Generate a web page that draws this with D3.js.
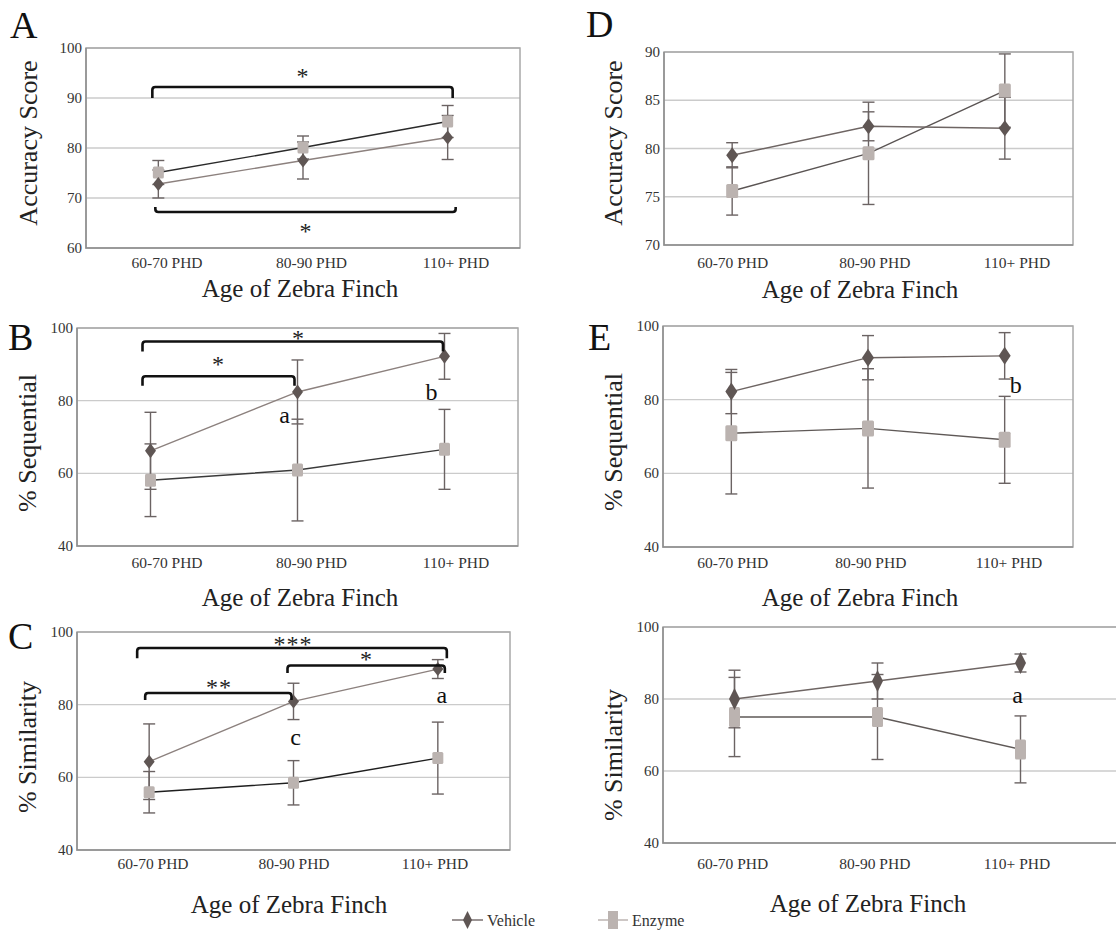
<!DOCTYPE html>
<html><head><meta charset="utf-8">
<script src="https://cdn.jsdelivr.net/npm/d3@7"></script>
<style>
body{margin:0;background:#fff}
svg{display:block}
</style>
</head><body>
<svg id="chart" width="1116" height="932" font-family="'Liberation Serif', 'DejaVu Serif', serif"></svg>
<script>
// ---------- data ----------
const categories = ["60-70 PHD", "80-90 PHD", "110+ PHD"];
const seriesNames = ["Vehicle", "Enzyme"];

// Panel A – Accuracy Score
const accVehicleA = [72.8, 77.5, 82.1];
const accVehicleErrA = [2.8, 3.7, 4.4];
const accEnzymeA = [75.1, 80.1, 85.3];
const accEnzymeErrA = [2.4, 2.3, 3.2];
const accTicksA = [60, 70, 80, 90, 100];

// Panel D – Accuracy Score
const accVehicleD = [79.3, 82.3, 82.1];
const accVehicleErrD = [1.3, 1.5, 3.2];
const accEnzymeD = [75.6, 79.5, 86.0];
const accEnzymeErrD = [2.5, 5.3, 3.8];
const accTicksD = [70, 75, 80, 85, 90];

// Panel B – % Sequential
const seqVehicleB = [66.2, 82.4, 92.2];
const seqVehicleErrB = [10.6, 8.8, 6.3];
const seqEnzymeB = [58.1, 60.9, 66.6];
const seqEnzymeErrB = [10.0, 14.0, 11.0];

// Panel E – % Sequential
const seqVehicleE = [82.2, 91.4, 91.9];
const seqVehicleErrE = [6.0, 6.0, 6.3];
const seqEnzymeE = [70.9, 72.2, 69.1];
const seqEnzymeErrE = [16.5, 16.2, 11.8];

// Panel C – % Similarity
const simVehicleC = [64.3, 80.9, 89.8];
const simVehicleErrC = [10.4, 5.0, 2.6];
const simEnzymeC = [55.9, 58.5, 65.3];
const simEnzymeErrC = [5.7, 6.1, 9.9];

// Panel F (unlabelled) – % Similarity
const simVehicleF = [80.0, 85.0, 90.0];
const simVehicleErrF = [8.0, 5.0, 2.5];
const simEnzymeF = [75.0, 75.0, 66.0];
const simEnzymeErrF = [11.0, 11.8, 9.3];

const pctTicks = [40, 60, 80, 100];

// significance brackets: [from category, to category, bar value, end value, label]
const bracketsA = [[0, 2, 92.2, 90.0, "*"], [0, 2, 67.2, 68.2, "*"]];
const bracketsB = [[0, 2, 96.3, 93.5, "*"], [0, 1, 86.7, 84.1, "*"]];
const bracketsC = [[0, 2, 95.6, 92.8, "***"], [1, 2, 90.8, 88.7, "*"], [0, 1, 83.2, 81.3, "**"]];
// letter annotations: [category, value, letter]
const lettersB = [[1, 75.3, "a"], [2, 81.6, "b"]];
const lettersE = [[2, 83.2, "b"]];
const lettersC = [[1, 70.3, "c"], [2, 82.1, "a"]];
const lettersF = [[2, 80.4, "a"]];

// ---------- layout / style ----------
const FONT = "'Liberation Serif', 'DejaVu Serif', serif";
const colVehicleMarker = "#5f5654";
const colEnzymeMarker = "#bbb3b0";
const colErr = "#6b6363";
const colGrid = "#cbcbcb";
const colFrame = "#8e8e8e";

const panels = [
  {letter:"A", letterPos:[10,38], v:accVehicleA, ve:accVehicleErrA, e:accEnzymeA, ee:accEnzymeErrA,
   domain:[60,100], ticks:accTicksA, yLabel:"Accuracy Score", yLabelPos:[28,143],
   frame:[86,48,520,248], xRange:[86,520], labelRange:[94.75,528.25], tickBase:20,
   xLabelPos:[300,297], vLine:"#8c817e", eLine:"#2a2a2a", mw:11, mh:12,
   brackets:bracketsA, bracketOff:[[-6,5],[-3,8]], starPos:[[0,95.0],[0,64.0]], letters:[], letterOff:[]},
  {letter:"D", letterPos:[586,37], v:accVehicleD, ve:accVehicleErrD, e:accEnzymeD, ee:accEnzymeErrD,
   domain:[70,90], ticks:accTicksD, yLabel:"Accuracy Score", yLabelPos:[613,143],
   frame:[664,52,1073,245], xRange:[664,1073], labelRange:[661.6,1088.1], tickBase:23,
   xLabelPos:[860,298], vLine:"#6e6563", eLine:"#5a5453", mw:12, mh:14,
   brackets:[], bracketOff:[], starPos:[], letters:[], letterOff:[]},
  {letter:"B", letterPos:[8,350], v:seqVehicleB, ve:seqVehicleErrB, e:seqEnzymeB, ee:seqEnzymeErrB,
   domain:[40,100], ticks:pctTicks, yLabel:"% Sequential", yLabelPos:[27,443],
   frame:[77,328,518,546], xRange:[77,518], labelRange:[94.75,528.25], tickBase:22,
   xLabelPos:[300,606], vLine:"#8c817e", eLine:"#3a3a3a", mw:11, mh:13,
   brackets:bracketsB, bracketOff:[[-8,-1.5],[-8,-3]], starPos:[[0,98.2],[0,90.8]], starX:[298,218],
   letters:lettersB, letterOff:[-13,-13]},
  {letter:"E", letterPos:[588,350], v:seqVehicleE, ve:seqVehicleErrE, e:seqEnzymeE, ee:seqEnzymeErrE,
   domain:[40,100], ticks:pctTicks, yLabel:"% Sequential", yLabelPos:[613,442],
   frame:[663,326,1073,547], xRange:[663,1073], labelRange:[663.6,1078.1], tickBase:21,
   xLabelPos:[860,606], vLine:"#6e6563", eLine:"#5f5957", mw:12, mh:16,
   brackets:[], bracketOff:[], starPos:[], letters:lettersE, letterOff:[11]},
  {letter:"C", letterPos:[8,649], v:simVehicleC, ve:simVehicleErrC, e:simEnzymeC, ee:simEnzymeErrC,
   domain:[40,100], ticks:pctTicks, yLabel:"% Similarity", yLabelPos:[27,747],
   frame:[77,632,510,850], xRange:[77,510], labelRange:[82.5,505.5], tickBase:19,
   xLabelPos:[289,913], vLine:"#8c817e", eLine:"#1e1e1e", mw:11, mh:12,
   brackets:bracketsC, bracketOff:[[-12,9],[-6,7],[-4,-2]], starPos:[[0,97.4],[0,93.3],[0,85.7]], starX:[293,366,219],
   letters:lettersC, letterOff:[2,4]},
  {letter:"", letterPos:[0,0], v:simVehicleF, ve:simVehicleErrF, e:simEnzymeF, ee:simEnzymeErrF,
   domain:[40,100], ticks:pctTicks, yLabel:"% Similarity", yLabelPos:[613,755],
   frame:[663,627,1140,843], xRange:[663,1092], labelRange:[661.6,1088.1], tickBase:26,
   xLabelPos:[868,912], vLine:"#6e6563", eLine:"#5f5957", mw:11, mh:20,
   brackets:[], bracketOff:[], starPos:[], letters:lettersF, letterOff:[-3]}
];

const svg = d3.select("#chart");
function txt(g) { return g.append("text").attr("font-family", FONT); }

panels.forEach(p => {
  const [fl, ft, fr, fb] = p.frame;
  const g = svg.append("g");
  const x = d3.scaleBand().domain(categories).range(p.xRange);
  const xl = d3.scaleBand().domain(categories).range(p.labelRange);
  const y = d3.scaleLinear().domain(p.domain).range([fb, ft]);
  const cx = i => x(categories[i]) + x.bandwidth() / 2;

  // grid
  g.selectAll(".grid").data(p.ticks.slice(1)).join("line")
    .attr("x1", fl).attr("x2", fr).attr("y1", d => y(d)).attr("y2", d => y(d))
    .attr("stroke", colGrid).attr("stroke-width", 1.3);
  // frame
  g.append("rect").attr("x", fl).attr("y", ft).attr("width", fr - fl).attr("height", fb - ft)
    .attr("fill", "none").attr("stroke", "#a8a8a8").attr("stroke-width", 1.5);
  g.append("path").attr("d", `M${fl},${ft}V${fb}H${fr}`).attr("fill", "none")
    .attr("stroke", colFrame).attr("stroke-width", 1.5);

  // y tick labels
  g.selectAll(".yt").data(p.ticks).join("text").attr("font-family", FONT)
    .attr("x", fl - 4).attr("y", d => y(d) + 5)
    .attr("text-anchor", "end").attr("font-size", 15).attr("fill", "#333").text(d => d);
  // x tick labels
  g.selectAll(".xt").data(categories).join("text").attr("font-family", FONT)
    .attr("x", d => xl(d) + xl.bandwidth() / 2).attr("y", fb + p.tickBase)
    .attr("text-anchor", "middle").attr("font-size", 15.5).attr("fill", "#333").text(d => d);

  // axis titles
  txt(g).attr("transform", `translate(${p.yLabelPos[0]},${p.yLabelPos[1]}) rotate(-90)`)
    .attr("text-anchor", "middle").attr("dominant-baseline", "central")
    .attr("font-size", 26).attr("fill", "#222").text(p.yLabel);
  txt(g).attr("x", p.xLabelPos[0]).attr("y", p.xLabelPos[1])
    .attr("text-anchor", "middle").attr("font-size", 25).attr("fill", "#222").text("Age of Zebra Finch");
  if (p.letter) txt(g).attr("x", p.letterPos[0]).attr("y", p.letterPos[1])
    .attr("font-size", 38).attr("fill", "#111").text(p.letter);

  const series = [
    {vals: p.e, errs: p.ee, line: p.eLine, kind: "sq"},
    {vals: p.v, errs: p.ve, line: p.vLine, kind: "dia"}
  ];
  const lineGen = d3.line().x((d, i) => cx(i)).y(d => y(d));
  series.forEach(s => {
    g.append("path").attr("d", lineGen(s.vals)).attr("fill", "none")
      .attr("stroke", s.line).attr("stroke-width", 1.4);
  });
  // error bars
  series.forEach(s => {
    s.vals.forEach((v, i) => {
      const X = cx(i), y1 = y(v + s.errs[i]), y2 = y(v - s.errs[i]);
      g.append("line").attr("x1", X).attr("x2", X).attr("y1", y1).attr("y2", y2)
        .attr("stroke", colErr).attr("stroke-width", 1.4);
      [y1, y2].forEach(yy => g.append("line").attr("x1", X - 6).attr("x2", X + 6)
        .attr("y1", yy).attr("y2", yy).attr("stroke", colErr).attr("stroke-width", 1.4));
    });
  });
  // markers
  series.forEach(s => {
    s.vals.forEach((v, i) => {
      const X = cx(i), Y = y(v);
      if (s.kind === "sq") {
        g.append("rect").attr("x", X - p.mw / 2).attr("y", Y - p.mh / 2)
          .attr("width", p.mw).attr("height", p.mh).attr("rx", 1.5)
          .attr("fill", colEnzymeMarker);
      } else {
        const w = p.mw / 2, h = p.mh / 2 + 1;
        g.append("path").attr("d", `M${X},${Y - h}L${X + w},${Y}L${X},${Y + h}L${X - w},${Y}Z`)
          .attr("fill", colVehicleMarker);
      }
    });
  });

  // brackets
  p.brackets.forEach((b, k) => {
    const [i0, i1, bar, end, lab] = b;
    const x1 = cx(i0) + p.bracketOff[k][0], x2 = cx(i1) + p.bracketOff[k][1];
    const yb = y(bar), ye = y(end);
    const r = 3 * Math.sign(ye - yb);
    g.append("path")
      .attr("d", `M${x1},${ye}V${yb + r}Q${x1},${yb} ${x1 + 3},${yb}H${x2 - 3}Q${x2},${yb} ${x2},${yb + r}V${ye}`)
      .attr("fill", "none").attr("stroke", "#111").attr("stroke-width", 2.6);
    const sx = p.starX ? p.starX[k] : (x1 + x2) / 2;
    txt(g).attr("x", sx).attr("y", y(p.starPos[k][1]) + 11)
      .attr("text-anchor", "middle").attr("font-size", 24).attr("fill", "#222")
      .attr("letter-spacing", lab.length > 1 ? 1 : 0).text(lab);
  });
  // letters
  p.letters.forEach((l, k) => {
    txt(g).attr("x", cx(l[0]) + p.letterOff[k]).attr("y", y(l[1]) + 5.5)
      .attr("text-anchor", "middle").attr("font-size", 24).attr("fill", "#111").text(l[2]);
  });
});

// legend
const legend = svg.append("g");
const legendItems = [
  {name: seriesNames[0], x0: 452, x1: 483, kind: "dia", line: "#7a7170"},
  {name: seriesNames[1], x0: 598, x1: 628, kind: "sq", line: "#bdb5b2"}
];
legendItems.forEach(it => {
  const Y = 920, m = (it.x0 + it.x1) / 2;
  legend.append("line").attr("x1", it.x0).attr("x2", it.x1).attr("y1", Y).attr("y2", Y)
    .attr("stroke", it.line).attr("stroke-width", 1.5);
  if (it.kind === "dia") legend.append("path").attr("d", `M${m},${Y - 9}L${m + 4.5},${Y}L${m},${Y + 9}L${m - 4.5},${Y}Z`)
    .attr("fill", colVehicleMarker);
  else legend.append("rect").attr("x", m - 5).attr("y", Y - 9).attr("width", 10).attr("height", 18)
    .attr("fill", colEnzymeMarker);
  txt(legend).attr("x", it.x1 + 4).attr("y", Y + 5.5).attr("font-size", 16)
    .attr("fill", "#333").text(it.name);
});
</script>
</body></html>
